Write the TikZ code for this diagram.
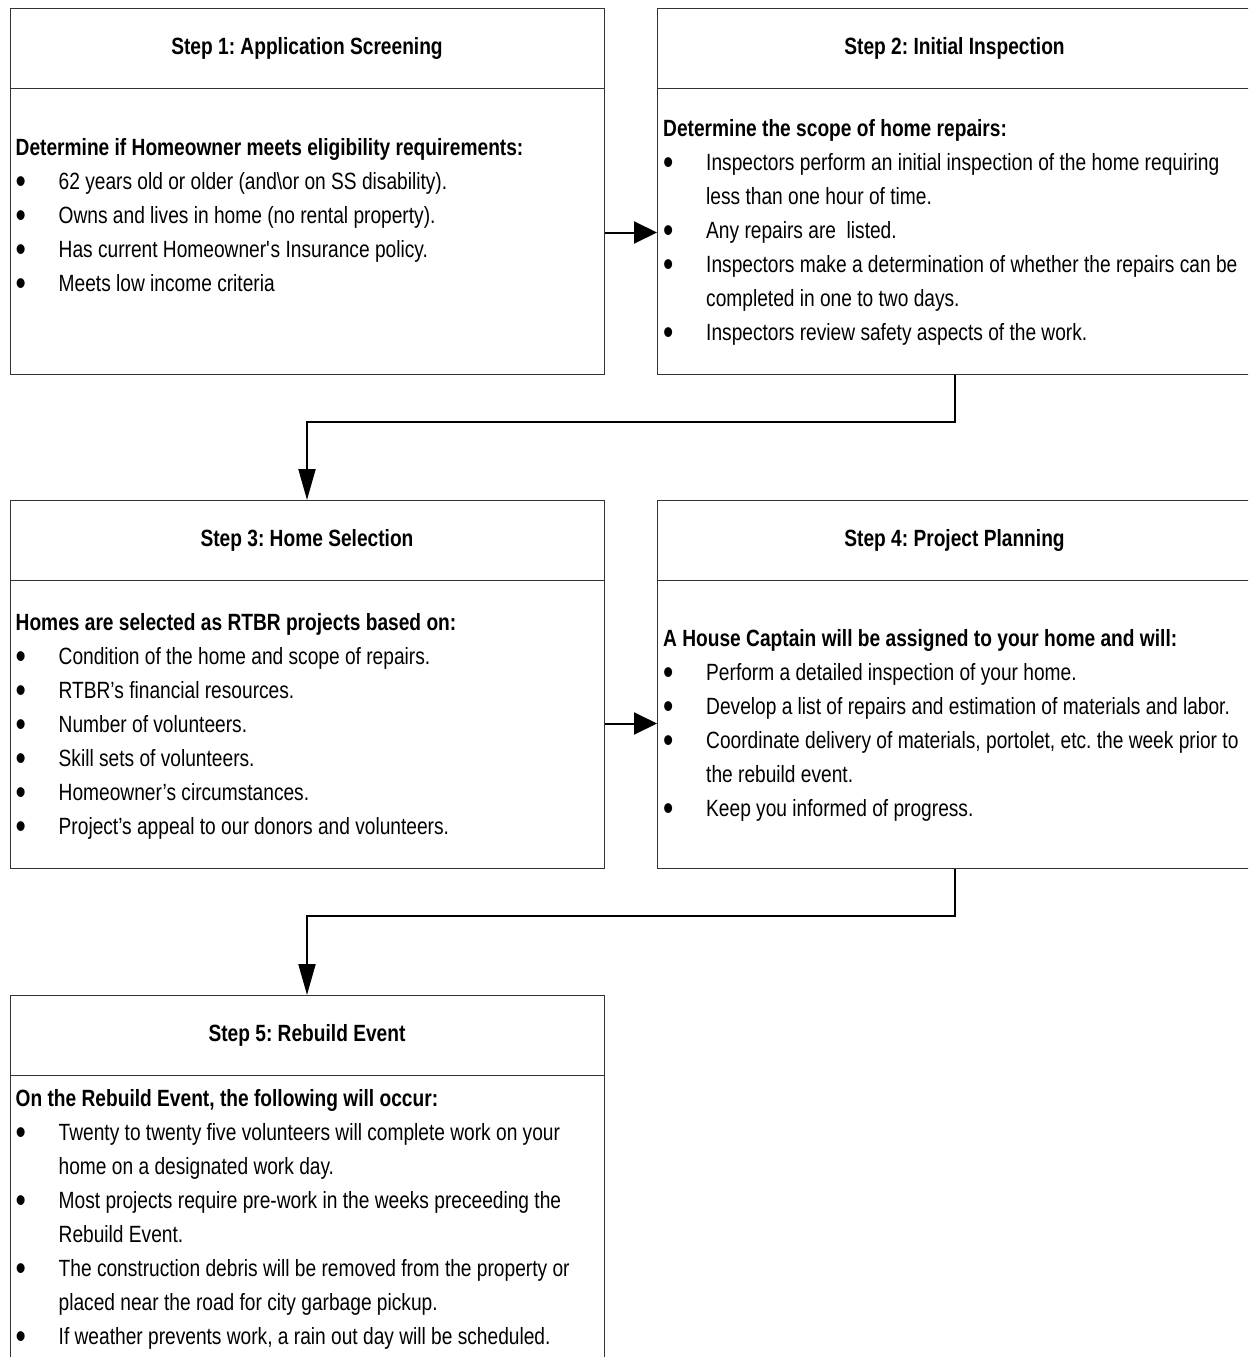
\documentclass[tikz,border=0pt]{standalone}
\usepackage{fontspec}
\setmainfont{Liberation Sans}[FakeStretch=0.815]
\usetikzlibrary{arrows.meta,positioning}
\frenchspacing
\newcommand\bl{\makebox[43pt][l]{\strut\raisebox{-4.6pt}{\fontsize{36}{34}\selectfont\textbullet}}}
\newcommand\ct{\hspace*{43pt}\strut}

\begin{document}
\begin{tikzpicture}[x=1pt,y=-1pt,
    stepbox/.style={draw=black!80,line width=1pt,minimum width=594pt,anchor=north west,inner sep=0pt},
    steptitle/.style={font=\fontsize{23.5}{34}\selectfont\bfseries},
    body/.style={anchor=north west,inner sep=0pt,align=left,font=\fontsize{23.5}{34}\selectfont},
    link/.style={line width=2pt,black},
    harrow/.style={link,-{Triangle[length=23pt,width=22pt]}},
    varrow/.style={link,-{Triangle[length=31pt,width=17pt]}}]
  \clip (0,0) rectangle (1248,1357);
  % boxes
  \node[stepbox,minimum height=366pt] (s1) at (9.5,8) {};
  \node[stepbox,minimum height=366pt] (s2) at (657,8) {};
  \node[stepbox,minimum height=368pt] (s3) at (9.5,500) {};
  \node[stepbox,minimum height=368pt] (s4) at (657,500) {};
  \node[stepbox,minimum height=420pt] (s5) at (9.5,995) {};
  \foreach \s in {s1,s2,s3,s4,s5} {
    \draw[line width=1pt,black!80] ([yshift=-80pt]\s.north west) -- ([yshift=-80pt]\s.north east);
  }
  % titles
  \node[steptitle] (t1) at ([yshift=-40pt]s1.north) {Step 1: Application Screening};
  \node[steptitle] (t2) at ([yshift=-40pt]s2.north) {Step 2: Initial Inspection};
  \node[steptitle] (t3) at ([yshift=-40pt]s3.north) {Step 3: Home Selection};
  \node[steptitle] (t4) at ([yshift=-40pt]s4.north) {Step 4: Project Planning};
  \node[steptitle] (t5) at ([yshift=-40pt]s5.north) {Step 5: Rebuild Event};
  % texts
  \node[body] (b1) at ([xshift=6pt,yshift=-123pt]s1.north west) {%
    \strut\textbf{Determine if Homeowner meets eligibility requirements:}\\
    \bl 62 years old or older (and\textbackslash or on SS disability).\\
    \bl Owns and lives in home (no rental property).\\
    \bl Has current Homeowner\textquotesingle s Insurance policy.\\
    \bl Meets low income criteria};
  \node[body] (b2) at ([xshift=6pt,yshift=-104pt]s2.north west) {%
    \strut\textbf{Determine the scope of home repairs:}\\
    \bl Inspectors perform an initial inspection of the home requiring\\
    \ct less than one hour of time.\\
    \bl Any repairs are\ \ listed.\\
    \bl Inspectors make a determination of whether the repairs can be\\
    \ct completed in one to two days.\\
    \bl Inspectors review safety aspects of the work.};
  \node[body] (b3) at ([xshift=6pt,yshift=-106pt]s3.north west) {%
    \strut\textbf{Homes are selected as RTBR projects based on:}\\
    \bl Condition of the home and scope of repairs.\\
    \bl RTBR’s financial resources.\\
    \bl Number of volunteers.\\
    \bl Skill sets of volunteers.\\
    \bl Homeowner’s circumstances.\\
    \bl Project’s appeal to our donors and volunteers.};
  \node[body] (b4) at ([xshift=6pt,yshift=-122pt]s4.north west) {%
    \strut\textbf{A House Captain will be assigned to your home and will:}\\
    \bl Perform a detailed inspection of your home.\\
    \bl Develop a list of repairs and estimation of materials and labor.\\
    \bl Coordinate delivery of materials, portolet, etc. the week prior to\\
    \ct the rebuild event.\\
    \bl Keep you informed of progress.};
  \node[body] (b5) at ([xshift=6pt,yshift=-87pt]s5.north west) {%
    \strut\textbf{On the Rebuild Event, the following will occur:}\\
    \bl Twenty to twenty five volunteers will complete work on your\\
    \ct home on a designated work day.\\
    \bl Most projects require pre-work in the weeks preceeding the\\
    \ct Rebuild Event.\\
    \bl The construction debris will be removed from the property or\\
    \ct placed near the road for city garbage pickup.\\
    \bl If weather prevents work, a rain out day will be scheduled.};
  % connectors
  \draw[harrow] ([yshift=-41pt]s1.east) -- ([yshift=-41pt]s2.west);
  \draw[harrow] ([yshift=-39pt]s3.east) -- ([yshift=-39pt]s4.west);
  \draw[varrow] (s2.south) -- ++(0,47) -| (s3.north);
  \draw[varrow] (s4.south) -- ++(0,47) -| (s5.north);
\end{tikzpicture}
\end{document}
